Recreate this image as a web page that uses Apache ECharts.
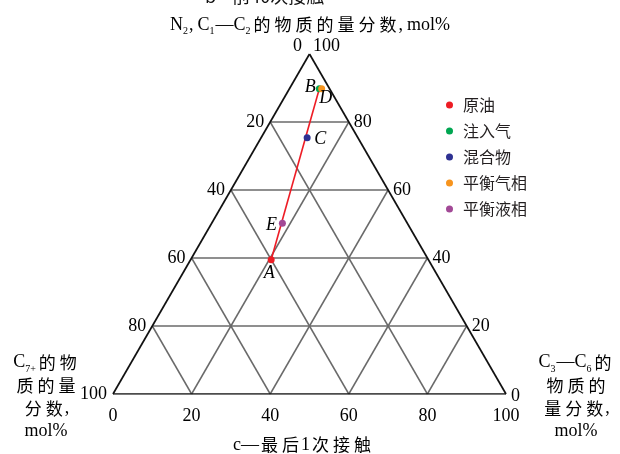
<!DOCTYPE html>
<html>
<head>
<meta charset="utf-8">
<script src="https://cdn.jsdelivr.net/npm/echarts@6/dist/echarts.min.js"></script>
<style>
html,body{margin:0;padding:0;background:#fff;}
#chart{width:620px;height:454px;}
</style>
</head>
<body>
<div id="chart"></div>
<script>
// ---- data ----
const ticks = [0, 20, 40, 60, 80, 100];
const gridVals = [20, 40, 60, 80];
const pointNames = ['原油', '注入气', '混合物', '平衡气相', '平衡液相'];
const pointLetters = ['A', 'B', 'C', 'D', 'E'];
// N2, C1—C2 (top vertex)
const topVals = [39.5, 89.8, 75.4, 89.8, 50.2];
// C3—C6 (bottom-right vertex)
const c36Vals = [20.5, 7.6, 11.7, 8.2, 18.0];
// C7+ (bottom-left vertex)
const c7Vals = [40.0, 2.6, 12.9, 2.0, 31.8];
// mixing line: from 原油 to 注入气
const lineIdx = [0, 1];

// ---- styles ----
const colors = ['#ed1c24', '#00a651', '#2e3192', '#f7941d', '#a24996'];
const letterOffsets = [[-2, 14], [-9, -1], [13, 2], [4, 10], [-11, 2]];
const SERIF = '"Liberation Serif", "Times New Roman", serif';
const CJK = '"Noto Sans CJK SC", sans-serif';
const SQ = Math.sqrt(3) / 2;

// ternary -> cartesian (data units, through the value axes)
function tern(top, c36) {
  return [c36 / 100 + top / 200, (top / 100) * SQ];
}

const series = [];

// grid lines
function addLine(p1, p2, color, width, z) {
  series.push({
    type: 'line', data: [p1, p2], symbol: 'none', silent: true,
    lineStyle: { color: color, width: width, opacity: 1 }, z: z, animation: false
  });
}
gridVals.forEach(v => {
  addLine(tern(v, 0), tern(v, 100 - v), '#6a6a6a', 1.5, 1);
  addLine(tern(0, v), tern(100 - v, v), '#6a6a6a', 1.5, 1);
  addLine(tern(0, 100 - v), tern(100 - v, 0), '#6a6a6a', 1.5, 1);
});
// outline
addLine(tern(0, 0), tern(0, 100), '#111', 1.7, 2);
addLine(tern(0, 100), tern(100, 0), '#111', 1.7, 2);
addLine(tern(100, 0), tern(0, 0), '#111', 1.7, 2);

// mixing line
series.push({
  type: 'line', symbol: 'none', silent: true, z: 3,
  data: lineIdx.map(i => tern(topVals[i], c36Vals[i])),
  lineStyle: { color: '#ee1c25', width: 1.6, opacity: 1 }
});

// tick labels
const tickFont = { fontFamily: SERIF, fontSize: 18, color: '#000', opacity: 1 };
function tickSeries(points, pos, dist, extra) {
  series.push({
    type: 'scatter', symbolSize: 0, silent: true, z: 4,
    itemStyle: { opacity: 1 },
    data: points.map((pt, k) => Object.assign({ value: pt }, extra(k))),
    label: Object.assign({ show: true, position: pos, distance: dist, formatter: p => ticks[p.dataIndex] }, tickFont)
  });
}
tickSeries(ticks.map(v => tern(100 - v, 0)), 'left', 6,
  k => ticks[k] === 0 ? { label: { position: 'inside', offset: [-12, -8] } } : {});
tickSeries(ticks.map(v => tern(v, 100 - v)), 'right', 5,
  k => ticks[k] === 100 ? { label: { position: 'inside', offset: [17, -8] } } : (ticks[k] === 0 ? { label: { offset: [0, 2] } } : {}));
tickSeries(ticks.map(v => tern(0, v)), 'bottom', 13, k => ({}));

// points
pointNames.forEach((name, i) => {
  series.push({
    type: 'scatter', name: name, z: 5,
    symbol: 'circle', symbolSize: 7,
    itemStyle: { color: colors[i], opacity: 1 },
    data: [tern(topVals[i], c36Vals[i])],
    label: {
      show: true, position: 'inside', offset: letterOffsets[i],
      formatter: pointLetters[i], opacity: 1,
      fontFamily: SERIF, fontStyle: 'italic', fontSize: 18, color: '#000'
    }
  });
});

const subRich = {
  n: { fontFamily: SERIF, fontSize: 18, color: '#000', lineHeight: 23 },
  s: { fontFamily: SERIF, fontSize: 10, color: '#000', lineHeight: 23, verticalAlign: 'bottom', padding: [6, 1, 0, 0] },
  c: { fontFamily: SERIF, fontSize: 18, color: '#000', lineHeight: 23, padding: [0, 4, 0, 0] },
  z: { fontFamily: CJK, fontSize: 17, color: '#111', lineHeight: 23, padding: [0, 2, 0, 2] }
};
// wrap each CJK character as its own spaced token
function cjk(str) {
  return str.split('').map(ch => '{z|' + ch + '}').join('');
}

const option = {
  animation: false,
  backgroundColor: '#ffffff',
  grid: { left: 113, top: 54, width: 393, height: 340, containLabel: false },
  xAxis: { type: 'value', min: 0, max: 1, show: false },
  yAxis: { type: 'value', min: 0, max: SQ, show: false },
  legend: {
    orient: 'vertical', left: 441, top: 92, itemWidth: 7, itemHeight: 7, itemGap: 10,
    icon: 'circle', data: pointNames,
    textStyle: { fontFamily: CJK, fontSize: 16, color: '#231f20', padding: [0, 0, 0, 5] }
  },
  graphic: [
    { type: 'text', x: 205, y: -13, style: { text: 'b—' + '前40次接触', font: '18px ' + CJK, fill: '#111' } },
    { type: 'text', x: 310, y: 25, style: {
      text: '{n|N}{s|2}{c|,}{n|C}{s|1}{n|—C}{s|2}' + cjk('的物质的量分数') + '{c|,}{n|mol%}',
      rich: subRich, align: 'center', verticalAlign: 'middle' } },
    { type: 'text', x: 303, y: 445, style: {
      text: '{n|c—}' + cjk('最后') + '{n|1}' + cjk('次接触'),
      rich: subRich, align: 'center', verticalAlign: 'middle' } },
    { type: 'text', x: 46, y: 397, style: {
      text: '{n|C}{s|7+}' + cjk('的物') + '\n' + cjk('质的量') + '\n' + cjk('分数') + '{n|,}\n{n|mol%}',
      rich: subRich, align: 'center', verticalAlign: 'middle' } },
    { type: 'text', x: 576, y: 397, style: {
      text: '{n|C}{s|3}{n|—C}{s|6}' + cjk('的') + '\n' + cjk('物质的') + '\n' + cjk('量分数') + '{n|,}\n{n|mol%}',
      rich: subRich, align: 'center', verticalAlign: 'middle' } }
  ],
  series: series
};

const chart = echarts.init(document.getElementById('chart'), null, { renderer: 'canvas' });
chart.setOption(option);
</script>
</body>
</html>
